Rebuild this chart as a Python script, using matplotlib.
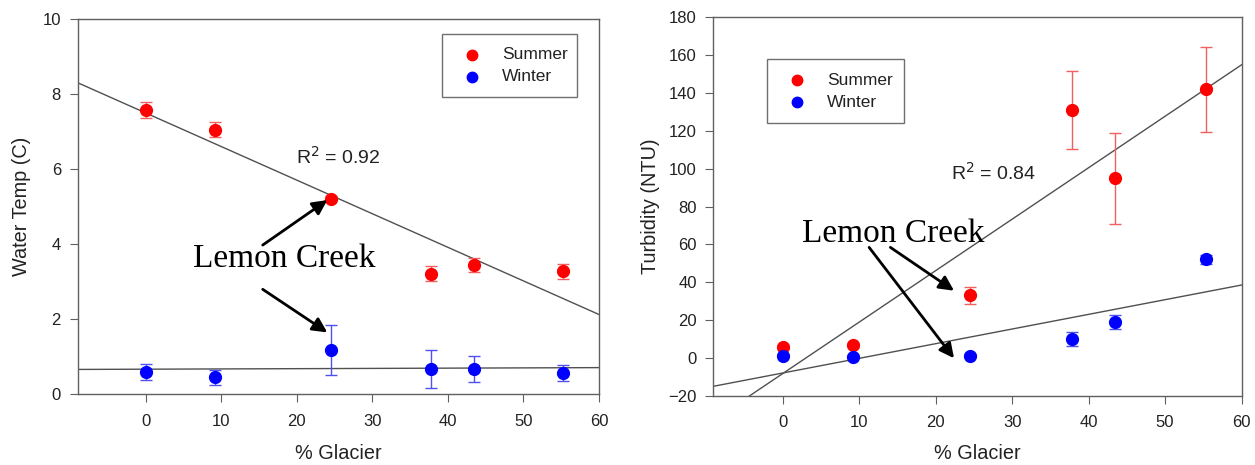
import numpy as np
import matplotlib.pyplot as plt
from matplotlib.patches import Rectangle

plt.rcParams['font.family'] = ['Liberation Sans', 'DejaVu Sans']

glacier = [0, 9.2, 24.5, 37.8, 43.4, 55.3]
seasons = ['Summer', 'Winter']

temp_summer = [7.58, 7.05, 5.22, 3.22, 3.45, 3.28]
temp_summer_err = [0.22, 0.2, 0.06, 0.2, 0.18, 0.2]
temp_winter = [0.6, 0.45, 1.18, 0.68, 0.67, 0.57]
temp_winter_err = [0.21, 0.2, 0.67, 0.5, 0.35, 0.22]

turb_summer = [6, 7, 33, 131, 95, 142]
turb_summer_err = [1.0, 1.0, 4.5, 20.5, 24, 22.5]
turb_winter = [1, 0.5, 1.2, 10, 19, 52]
turb_winter_err = [0.8, 0.8, 0.8, 3.5, 3.5, 2.5]

# regression lines (slope, intercept)
temp_fit_summer = (-0.0896, 7.504)
temp_fit_winter = (0.0007, 0.67)
turb_fit_summer = (2.72, -8.3)
turb_fit_winter = (0.775, -8.0)

red = '#ff0000'
blue = '#0000ff'
err_red = '#f06060'
err_blue = '#5050f0'
line_c = '#505050'
txt_c = '#222222'

fig = plt.figure(figsize=(12.55, 4.65), dpi=100)
ax1 = fig.add_axes([0.0618, 0.152, 0.4155, 0.8065])
ax2 = fig.add_axes([0.5684, 0.149, 0.4209, 0.8138])


def style(ax):
    for s in ['top', 'right', 'left', 'bottom']:
        ax.spines[s].set_color('#606060')
        ax.spines[s].set_linewidth(1.0)
    ax.tick_params(direction='out', length=6, color='#606060', labelsize=12,
                   labelcolor=txt_c)
    ax.tick_params(axis='x', pad=8)
    ax.tick_params(axis='y', pad=6)


def draw(ax, ys, yse, yw, ywe, fs, fw, xlim):
    xs = np.array(xlim)
    ax.plot(xs, fs[0] * xs + fs[1], color=line_c, lw=1.0, zorder=1)
    ax.plot(xs, fw[0] * xs + fw[1], color=line_c, lw=1.0, zorder=1)
    ax.errorbar(glacier, ys, yerr=yse, fmt='none', ecolor=err_red, elinewidth=1,
                capsize=4, capthick=1, zorder=2)
    ax.errorbar(glacier, yw, yerr=ywe, fmt='none', ecolor=err_blue, elinewidth=1,
                capsize=4, capthick=1, zorder=2)
    ax.plot(glacier, ys, 'o', color=red, ms=8.5, zorder=3)
    ax.plot(glacier, yw, 'o', color=blue, ms=8.5, zorder=3)


def legend_box(ax, box, mx, tx, rows):
    t = ax.transAxes
    ax.add_patch(Rectangle((box[0], box[1]), box[2] - box[0], box[3] - box[1],
                           transform=t, fill=False, edgecolor='#707070', lw=1.0,
                           zorder=5))
    for name, c, ry in zip(seasons, [red, blue], rows):
        ax.plot([mx], [ry], 'o', color=c, ms=7.5, transform=t, zorder=6,
                clip_on=False)
        ax.text(tx, ry, name, transform=t, fontsize=12.5, color=txt_c,
                va='center', ha='left', zorder=6)


def arrow(ax, tail, head):
    ax.annotate('', xy=head, xytext=tail,
                arrowprops=dict(arrowstyle='-|>', color='black', lw=2,
                                mutation_scale=22, shrinkA=0, shrinkB=0))


# left panel - water temp
draw(ax1, temp_summer, temp_summer_err, temp_winter, temp_winter_err,
     temp_fit_summer, temp_fit_winter, (-9, 60))
ax1.set_xlim(-9, 60)
ax1.set_ylim(0, 10)
ax1.set_xticks([0, 10, 20, 30, 40, 50, 60])
ax1.set_yticks([0, 2, 4, 6, 8, 10])
ax1.set_xlabel('% Glacier', fontsize=14.3, color=txt_c, labelpad=11)
ax1.set_ylabel('Water Temp (C)', fontsize=14.3, color=txt_c, labelpad=8)
style(ax1)
ax1.text(19.9, 6.16, r'R$^2$ = 0.92', fontsize=14, va='baseline', color=txt_c)
ax1.text(18.3, 3.40, 'Lemon Creek', family='Liberation Serif', fontsize=24,
         ha='center', va='baseline')
arrow(ax1, (15.5, 3.98), (24.05, 5.18))
arrow(ax1, (15.5, 2.8), (24.05, 1.65))
legend_box(ax1, (0.6995, 0.792, 0.9584, 0.961), 0.7571, 0.8134, (0.905, 0.847))

# right panel - turbidity
draw(ax2, turb_summer, turb_summer_err, turb_winter, turb_winter_err,
     turb_fit_summer, turb_fit_winter, (-9.07, 60))
ax2.set_xlim(-9.07, 60)
ax2.set_ylim(-20, 180)
ax2.set_xticks([0, 10, 20, 30, 40, 50, 60])
ax2.set_yticks(np.arange(-20, 181, 20))
ax2.set_xlabel('% Glacier', fontsize=14.3, color=txt_c, labelpad=10)
ax2.set_ylabel('Turbidity (NTU)', fontsize=14.3, color=txt_c, labelpad=6)
style(ax2)
ax2.text(22.0, 94, r'R$^2$ = 0.84', fontsize=14, va='baseline', color=txt_c)
ax2.text(14.5, 61.4, 'Lemon Creek', family='Liberation Serif', fontsize=24,
         ha='center', va='baseline')
arrow(ax2, (14.08, 58.4), (22.4, 35.5))
arrow(ax2, (11.3, 58.4), (22.4, -0.2))
legend_box(ax2, (0.1011, 0.7215, 0.361, 0.8898), 0.1578, 0.2158, (0.8343, 0.7754))

fig.savefig('out.png', dpi=100)
